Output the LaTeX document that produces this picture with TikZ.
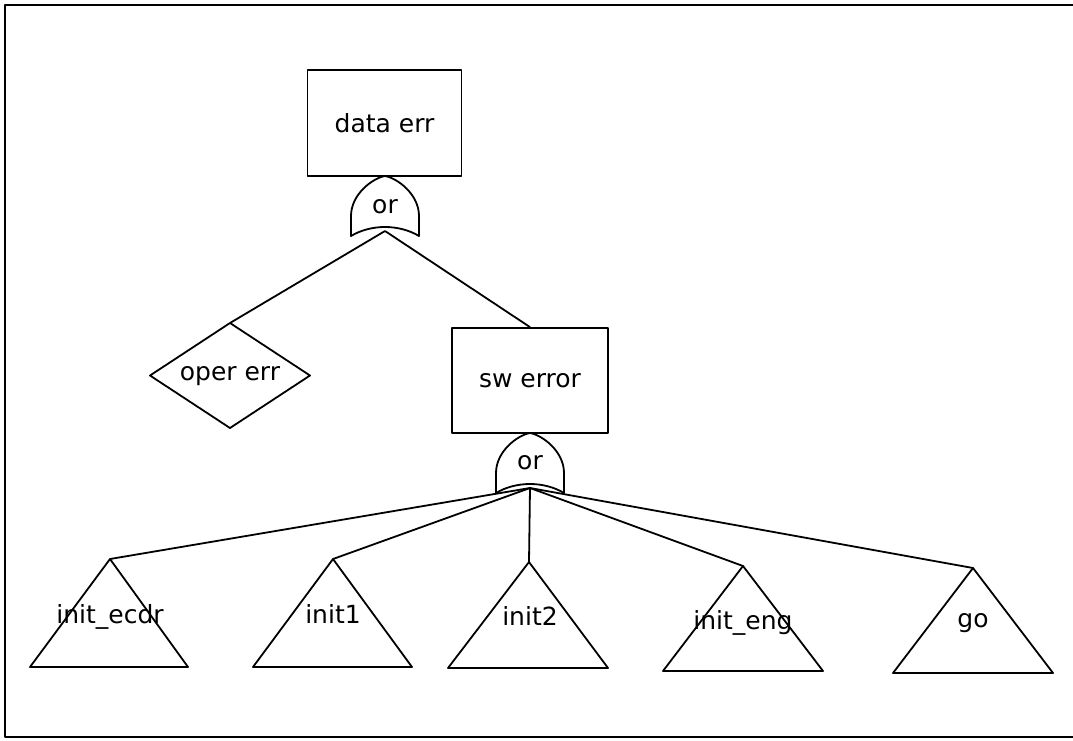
\documentclass[tikz,border=0pt]{standalone}
\usepackage{fontspec}
\setmainfont{DejaVu Sans}
\begin{document}
\begin{tikzpicture}[x=1pt,y=-1pt,line width=1.8pt,line join=round,
  lbl/.style={font=\fontsize{25}{28}\selectfont, inner sep=0pt},
  evbox/.style={draw, rectangle, line width=1.8pt, font=\fontsize{25}{28}\selectfont, inner sep=0pt},
  orgate/.pic={\draw (-34,60) -- (-34,40) .. controls (-34,18) and (-12,2) .. (0,0)
      .. controls (12,2) and (34,18) .. (34,40) -- (34,60)
      .. controls (14,48) and (-14,48) .. cycle;}]
\useasboundingbox (0,0) rectangle (1073,740);
% frame
\draw (1073,5) -- (5,5) -- (5,737) -- (1073,737);
% top event
\node[evbox, minimum width=154pt, minimum height=106pt] (data) at (384.5,123) {data err};
\pic at (385,176) {orgate};
\node[lbl] (or1) at (385,207) {or};
\coordinate (g1) at (385,231);
% oper err diamond
\coordinate (opertop) at (230,323);
\draw (150,375.5) -- (opertop) -- (310,375.5) -- (230,428) -- cycle;
\node[lbl] (oper) at (230,376) {oper err};
% sw error
\node[evbox, minimum width=156pt, minimum height=105pt] (sw) at (530,380.5) {sw error};
\pic at (530,433) {orgate};
\node[lbl] (or2) at (530,463) {or};
\coordinate (g2) at (530,488);
\draw (g1) -- (opertop);
\draw (g1) -- (sw.north);
% triangles
\coordinate (t1) at (110,559);
\draw (t1) -- (188,667) -- (30,667) -- cycle;
\node[lbl, anchor=base] (l1) at (110,623) {init\_ecdr};
\coordinate (t2) at (333,559);
\draw (t2) -- (412,667) -- (253,667) -- cycle;
\node[lbl, anchor=base] (l2) at (333,623) {init1};
\coordinate (t3) at (529,562);
\draw (t3) -- (608,668) -- (448,668) -- cycle;
\node[lbl, anchor=base] (l3) at (530,625) {init2};
\coordinate (t4) at (743,566);
\draw (t4) -- (823,671) -- (663,671) -- cycle;
\node[lbl, anchor=base] (l4) at (743,629) {init\_eng};
\coordinate (t5) at (973,568);
\draw (t5) -- (1053,673) -- (893,673) -- cycle;
\node[lbl, anchor=base] (l5) at (973,627) {go};
\foreach \t in {t1,t2,t3,t4,t5} \draw (g2) -- (\t);
\end{tikzpicture}
\end{document}
